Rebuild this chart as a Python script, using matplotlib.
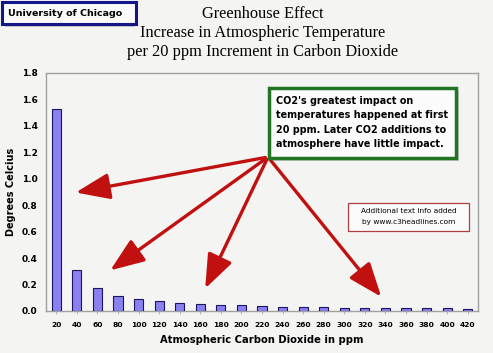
import matplotlib
matplotlib.use("Agg")
import matplotlib.pyplot as plt
from matplotlib.patches import Rectangle, FancyArrowPatch
import numpy as np

co2_ppm = [20, 40, 60, 80, 100, 120, 140, 160, 180, 200, 220,
           240, 260, 280, 300, 320, 340, 360, 380, 400, 420]
tick_labels = ["20", "40", "60", "80", "100", "120", "140", "160", "180", "200", "220",
               "240", "260", "280", "300", "320", "340", "360", "380", "400", "420"]
delta_temp = [1.53, 0.31, 0.175, 0.116, 0.092, 0.073, 0.062, 0.052, 0.042, 0.042, 0.035,
              0.033, 0.027, 0.027, 0.026, 0.026, 0.025, 0.021, 0.021, 0.020, 0.018]
y_ticks = [0.0, 0.2, 0.4, 0.6, 0.8, 1.0, 1.2, 1.4, 1.6, 1.8]

W, H = 493, 353
DPI = 100
bg = "#f4f4f2"
fig = plt.figure(figsize=(W / DPI, H / DPI), dpi=DPI, facecolor=bg)

def fx(px):
    return px / W

def fy(py):
    return 1 - py / H

L, R, T, B = 46, 478, 73, 311
ax = fig.add_axes([fx(L), fy(B), fx(R) - fx(L), fy(T) - fy(B)])
ax.set_facecolor(bg)
x = np.arange(len(co2_ppm))
ax.bar(x, delta_temp, width=0.45, color="#8a80f0", edgecolor="#1a1560", linewidth=0.8, zorder=3)
ax.set_xlim(-0.5, len(co2_ppm) - 0.5)
ax.set_ylim(0, 1.8)
ax.set_yticks(y_ticks)
ax.set_yticklabels([f"{v:.1f}" for v in y_ticks], fontsize=6.5, fontweight="bold")
ax.set_xticks(x)
ax.set_xticklabels(tick_labels, fontsize=5.4, fontweight="bold")
ax.tick_params(axis="y", length=0, pad=6)
ax.tick_params(axis="x", length=2, color="#bbbbbb", pad=6)
for s in ax.spines.values():
    s.set_color("#a0a0a0")
    s.set_linewidth(1.0)
ax.set_ylabel("Degrees Celcius", fontsize=7, fontweight="bold", labelpad=4)
ax.set_xlabel("Atmospheric Carbon Dioxide in ppm", fontsize=7.2, fontweight="bold", labelpad=5)

# Titles
serif = ["Liberation Serif", "DejaVu Serif"]
title_lines = ["Greenhouse Effect", "Increase in Atmospheric Temperature",
               "per 20 ppm Increment in Carbon Dioxide"]
for i, t in enumerate(title_lines):
    fig.text(fx(263), fy(14 + i * 19), t, ha="center", va="center",
             fontsize=11.8, family=serif)

# University of Chicago box with shadow
fig.patches.append(Rectangle((fx(5), fy(27)), fx(135) - fx(5), fy(5) - fy(27),
                             transform=fig.transFigure, facecolor="#9a9aa8", edgecolor="none",
                             alpha=0.5, zorder=1))
fig.patches.append(Rectangle((fx(2), fy(24)), fx(136) - fx(2), fy(2) - fy(24),
                             transform=fig.transFigure, facecolor="#fafafa", edgecolor="#15158a",
                             linewidth=2.2, zorder=2))
fig.text(fx(8), fy(14), "University of Chicago", ha="left", va="center",
         fontsize=6.8, fontweight="bold", zorder=3)

# Arrows
origin = (fx(268), fy(157))
targets = [(73, 193), (108, 272), (204, 291), (383, 299)]
for tx, ty in targets:
    fig.add_artist(FancyArrowPatch(
        origin, (fx(tx), fy(ty)), transform=fig.transFigure,
        arrowstyle="-|>,head_length=13,head_width=5", mutation_scale=1.6,
        color="#c01010", linewidth=2.4, zorder=5))

# Green annotation box with shadow
fig.patches.append(Rectangle((fx(272), fy(161)), fx(459) - fx(272), fy(91) - fy(161),
                             transform=fig.transFigure, facecolor="#888888", edgecolor="none",
                             alpha=0.4, zorder=6))
fig.patches.append(Rectangle((fx(269), fy(158)), fx(456) - fx(269), fy(88) - fy(158),
                             transform=fig.transFigure, facecolor="#fbfbfb", edgecolor="#237523",
                             linewidth=2.5, zorder=7))
lines = ["CO2's greatest impact on", "temperatures happened at first",
         "20 ppm. Later CO2 additions to", "atmosphere have little impact."]
for i, t in enumerate(lines):
    fig.text(fx(276), fy(101 + i * 14.5), t, ha="left", va="center",
             fontsize=6.9, fontweight="bold", zorder=8)

# Red small box
fig.patches.append(Rectangle((fx(348), fy(231)), fx(469) - fx(348), fy(203) - fy(231),
                             transform=fig.transFigure, facecolor="#fbfbfb", edgecolor="#b04040",
                             linewidth=0.9, zorder=7))
fig.text(fx(408.5), fy(211), "Additional text info added", ha="center", va="center",
         fontsize=5.3, zorder=8)
fig.text(fx(408.5), fy(222), "by www.c3headlines.com", ha="center", va="center",
         fontsize=5.3, zorder=8)

fig.savefig("out.png", dpi=DPI, facecolor=bg)
